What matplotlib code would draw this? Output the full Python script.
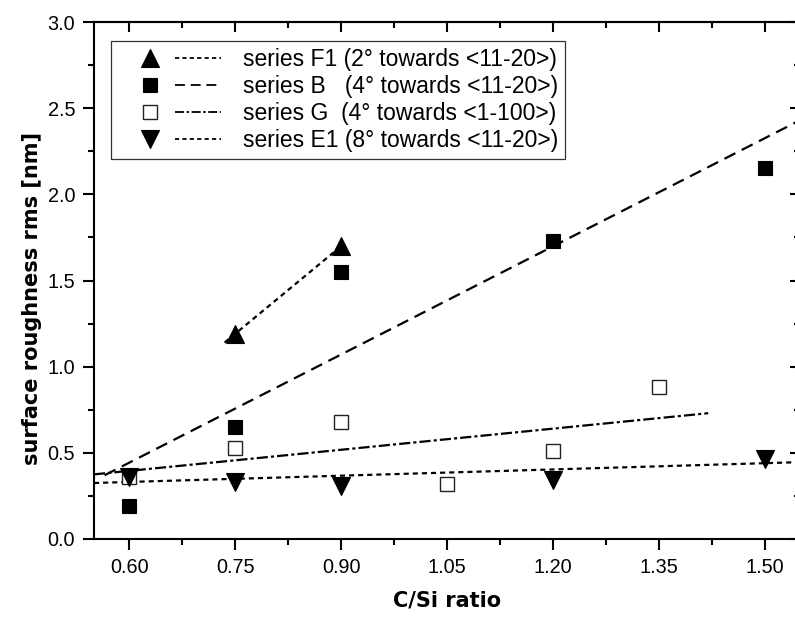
import matplotlib
matplotlib.use("Agg")
import matplotlib.pyplot as plt
from matplotlib.lines import Line2D
from matplotlib.legend_handler import HandlerBase
from matplotlib.ticker import MultipleLocator

# ---------------- data ----------------
x_ticks = [0.60, 0.75, 0.90, 1.05, 1.20, 1.35, 1.50]
x_tick_labels = ["0.60", "0.75", "0.90", "1.05", "1.20", "1.35", "1.50"]
y_ticks = [0.0, 0.5, 1.0, 1.5, 2.0, 2.5, 3.0]
y_tick_labels = ["0.0", "0.5", "1.0", "1.5", "2.0", "2.5", "3.0"]

f1_x = [0.75, 0.90]
f1_y = [1.19, 1.70]
b_x = [0.60, 0.75, 0.90, 1.20, 1.50]
b_y = [0.19, 0.65, 1.55, 1.73, 2.15]
g_x = [0.60, 0.75, 0.90, 1.05, 1.20, 1.35]
g_y = [0.36, 0.53, 0.68, 0.32, 0.51, 0.88]
e1_x = [0.60, 0.75, 0.90, 1.20, 1.50]
e1_y = [0.36, 0.33, 0.31, 0.34, 0.465]

# linear-fit lines (end points)
f1_fit_x = [0.735, 0.89]
f1_fit_y = [1.14, 1.665]
b_fit_x = [0.565, 1.55]
b_fit_y = [0.37, 2.43]
g_fit_x = [0.55, 1.42]
g_fit_y = [0.375, 0.73]
e1_fit_x = [0.55, 1.55]
e1_fit_y = [0.325, 0.446]

series_labels = [
    "series F1 (2\u00b0 towards <11-20>)",
    "series B   (4\u00b0 towards <11-20>)",
    "series G  (4\u00b0 towards <1-100>)",
    "series E1 (8\u00b0 towards <11-20>)",
]
x_label = "C/Si ratio"
y_label = "surface roughness rms [nm]"

# ---------------- styles ----------------
LW = 1.6
dot_ls = (0, (2.3, 1.8))
dash_ls = (0, (5.5, 3.2))
dashdot_ls = (0, (5.0, 1.4, 1.4, 1.4))
tick_font = "Liberation Sans"

fig = plt.figure(figsize=(7.95, 6.22), dpi=100)
ax = fig.add_axes([94 / 795, 83 / 622, 706 / 795, 517 / 622])
ax.set_xlim(0.55, 1.55)
ax.set_ylim(0.0, 3.0)

# fit lines
ax.plot(f1_fit_x, f1_fit_y, color="black", lw=LW, ls=dot_ls, zorder=2)
ax.plot(b_fit_x, b_fit_y, color="black", lw=LW, ls=dash_ls, zorder=2)
ax.plot(g_fit_x, g_fit_y, color="black", lw=LW, ls=dashdot_ls, zorder=2)
ax.plot(e1_fit_x, e1_fit_y, color="black", lw=LW, ls=dot_ls, zorder=2)

# markers
mF1, = ax.plot(f1_x, f1_y, ls="none", marker="^", ms=13.5, mfc="black", mec="black", mew=0.8, zorder=3)
mB, = ax.plot(b_x, b_y, ls="none", marker="s", ms=10.5, mfc="black", mec="black", mew=0.8, zorder=3)
mG, = ax.plot(g_x, g_y, ls="none", marker="s", ms=10.5, mfc="white", mec="#222222", mew=1.0, zorder=3)
mE1, = ax.plot(e1_x, e1_y, ls="none", marker="v", ms=13.5, mfc="black", mec="black", mew=0.8, zorder=4)

# ---------------- axes / ticks ----------------
for sp in ax.spines.values():
    sp.set_linewidth(1.5)

ax.set_xticks(x_ticks)
ax.set_xticklabels(x_tick_labels, fontfamily=tick_font, fontsize=14.3)
ax.set_yticks(y_ticks)
ax.set_yticklabels(y_tick_labels, fontfamily=tick_font, fontsize=14.3)
ax.xaxis.set_minor_locator(MultipleLocator(0.075))
ax.yaxis.set_minor_locator(MultipleLocator(0.25))
ax.tick_params(which="major", direction="out", length=8, width=1.5, pad=5.5,
               top=False, right=False)
ax.tick_params(which="minor", direction="out", length=4.5, width=1.5,
               top=False, right=False)

secx = ax.secondary_xaxis("top")
secx.set_xticks(x_ticks)
secx.xaxis.set_minor_locator(MultipleLocator(0.075))
secx.tick_params(which="major", direction="in", length=7.5, width=1.5, labeltop=False)
secx.tick_params(which="minor", direction="in", length=4, width=1.5)
secx.spines["top"].set_linewidth(1.5)

secy = ax.secondary_yaxis("right")
secy.set_yticks(y_ticks)
secy.yaxis.set_minor_locator(MultipleLocator(0.25))
secy.tick_params(which="major", direction="in", length=7.5, width=1.5, labelright=False)
secy.tick_params(which="minor", direction="in", length=4, width=1.5)
secy.spines["right"].set_linewidth(1.5)

ax.set_xlabel(x_label, fontfamily="DejaVu Sans", fontweight="bold", fontsize=15)
ax.set_ylabel(y_label, fontfamily="DejaVu Sans", fontweight="bold", fontsize=15)
ax.xaxis.set_label_coords(0.5, -0.10)
ax.yaxis.set_label_coords(-0.073, 0.466)


# ---------------- legend (marker, then line sample, then text) ----------------
class MarkerThenLine(HandlerBase):
    def create_artists(self, legend, orig_handle, xdescent, ydescent,
                       width, height, fontsize, trans):
        mk, ln = orig_handle
        yc = height / 2.0 - ydescent
        x0 = -xdescent
        m = Line2D([x0 + 0.31 * width], [yc])
        m.update_from(mk)
        m.set_linestyle("none")
        l = Line2D([x0 + 0.55 * width, x0 + width], [yc, yc])
        l.update_from(ln)
        l.set_marker("none")
        m.set_transform(trans)
        l.set_transform(trans)
        return [l, m]


lF1 = Line2D([], [], color="black", lw=1.3, ls=dot_ls)
lB = Line2D([], [], color="black", lw=1.3, ls=dash_ls)
lG = Line2D([], [], color="black", lw=1.3, ls=dashdot_ls)
lE1 = Line2D([], [], color="black", lw=1.3, ls=dot_ls)

handles = [(mF1, lF1), (mB, lB), (mG, lG), (mE1, lE1)]
leg = ax.legend(handles, series_labels, handler_map={tuple: MarkerThenLine()},
                loc="upper left", bbox_to_anchor=(0.0241, 0.9632), borderaxespad=0,
                prop={"family": "Liberation Sans", "size": 16.5},
                handlelength=4.5, handletextpad=0.95, labelspacing=0.18,
                borderpad=0.3, fancybox=False, framealpha=1, edgecolor="#333333")
leg.get_frame().set_linewidth(0.9)

fig.savefig("out.png", dpi=100)
